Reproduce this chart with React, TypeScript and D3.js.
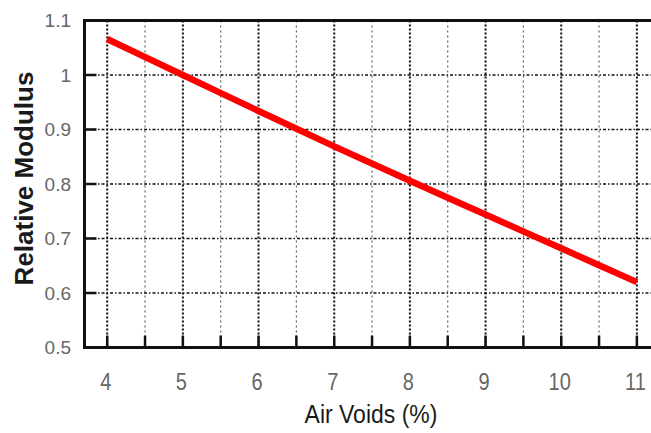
import React from "react";
import * as d3 from "d3";

const airVoids = [4, 5, 6, 7, 8, 9, 10, 11];
const relativeModulus = [1.066, 1.0, 0.934, 0.869, 0.806, 0.744, 0.682, 0.62];
const xTicks = [4, 5, 6, 7, 8, 9, 10, 11];
const xMinorGrid = [4.5, 5.5, 6.5, 7.5, 8.5, 9.5, 10.5];
const yTicks = [0.5, 0.6, 0.7, 0.8, 0.9, 1.0, 1.1];
const yTickLabels = ["0.5", "0.6", "0.7", "0.8", "0.9", "1", "1.1"];
const xTitle = "Air Voids (%)";
const yTitle = "Relative Modulus";

const W = 651;
const H = 433;
const left = 84.5;
const top = 20.5;
const bottom = 347.5;

export default function App() {
  const x = d3.scaleLinear().domain([3.7, 11.3]).range([left, left + 7.6 * 75.67]);
  const y = d3.scaleLinear().domain([0.5, 1.1]).range([bottom, top]);
  const right = x(11.3);
  const line = d3
    .line<number>()
    .x((_, i) => x(airVoids[i]))
    .y((d) => y(d))
    .curve(d3.curveMonotoneX);

  const font = "Arial, 'Liberation Sans', Helvetica, sans-serif";
  const gridYs = yTicks.filter((v) => v > 0.55 && v < 1.05);

  return (
    <svg
      width={W}
      height={H}
      style={{ position: "absolute", left: 0, top: 0, background: "#fff" }}
      fontFamily={font}
    >
      <rect x={0} y={0} width={W} height={H} fill="#fff" />
      {/* minor vertical grid */}
      {xMinorGrid.map((v) => (
        <line key={"mg" + v} x1={x(v)} x2={x(v)} y1={top} y2={bottom} stroke="#555" strokeWidth={1.1} strokeDasharray="2,3" />
      ))}
      {/* major vertical grid */}
      {xTicks.map((v) => (
        <line key={"g" + v} x1={x(v)} x2={x(v)} y1={top} y2={bottom} stroke="#111" strokeWidth={2} strokeDasharray="2,2" />
      ))}
      {/* horizontal grid */}
      {gridYs.map((v) => (
        <line key={"h" + v} x1={left} x2={right} y1={y(v)} y2={y(v)} stroke="#111" strokeWidth={1.7} strokeDasharray="3,2,1.5,2" />
      ))}
      {/* y ticks */}
      {gridYs.map((v) => (
        <line key={"yt" + v} x1={left} x2={left + 12} y1={y(v)} y2={y(v)} stroke="#111" strokeWidth={2.5} />
      ))}
      {/* x ticks */}
      {[...xTicks, ...xMinorGrid].map((v) => (
        <line key={"xt" + v} x1={x(v)} x2={x(v)} y1={bottom} y2={bottom - 12} stroke="#111" strokeWidth={2.5} />
      ))}
      {/* frame */}
      <path d={`M${right},${top} H${left} V${bottom} H${right}`} fill="none" stroke="#111" strokeWidth={3} />
      {/* data line */}
      <path d={line(relativeModulus) || ""} fill="none" stroke="#ff0000" strokeWidth={6.5} />
      {/* y tick labels */}
      {yTicks.map((v, i) => (
        <text key={"yl" + v} x={71} y={y(v) + 6.5} textAnchor="end" fontSize={19} fill="#666">
          {yTickLabels[i]}
        </text>
      ))}
      {/* x tick labels */}
      {xTicks.map((v) => (
        <g key={"xl" + v} transform={`translate(${x(v) - 1.5},390) scale(1,1.15)`}>
          <text x={0} y={0} textAnchor="middle" fontSize={20} fill="#666">
            {v}
          </text>
        </g>
      ))}
      {/* x title */}
      <g transform={`translate(371,422.5) scale(1,1.15)`}>
        <text x={0} y={0} textAnchor="middle" fontSize={23} fill="#1a1a1a">
          {xTitle}
        </text>
      </g>
      {/* y title */}
      <g transform={`translate(33,178.5) rotate(-90) scale(1.04,1)`}>
        <text x={0} y={0} textAnchor="middle" fontSize={25} fontWeight="bold" fill="#1a1a1a">
          {yTitle}
        </text>
      </g>
    </svg>
  );
}
